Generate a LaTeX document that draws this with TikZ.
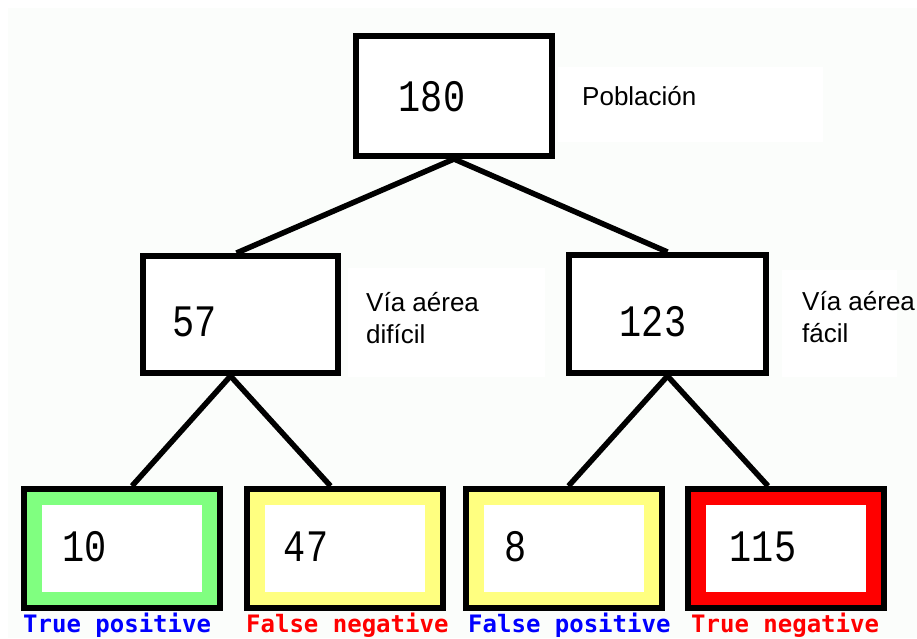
\documentclass[tikz,border=0pt]{standalone}
\usepackage{fontspec}
\setmainfont{Liberation Sans}
\newfontfamily\numfont{Liberation Mono}
\newfontfamily\tagfont{DejaVu Sans Mono}
\usetikzlibrary{backgrounds}
\definecolor{paper}{RGB}{251,253,251}
\definecolor{tpgreen}{RGB}{128,255,128}
\definecolor{fyellow}{RGB}{255,255,128}
\definecolor{tnred}{RGB}{255,0,0}
\definecolor{tagblue}{RGB}{0,0,255}
\definecolor{tagred}{RGB}{255,0,0}

\begin{document}
\begin{tikzpicture}[x=1pt,y=-1pt,
  box/.style={draw=black, line width=6pt, fill=white,
    minimum width=196pt, minimum height=119pt, inner sep=0pt},
  leaf/.style={box, fill=#1},
  count/.style={font=\numfont\fontsize{45}{45}\selectfont, inner sep=0pt},
  note/.style={font=\fontsize{26}{32}\selectfont, align=left,
    anchor=base west, inner sep=0pt},
  tag/.style={font=\tagfont\bfseries\fontsize{24}{24}\selectfont,
    anchor=base west, inner sep=0pt, text=#1},
  link/.style={line width=5.5pt, line cap=butt},
  hole/.style={fill=white}
]
\useasboundingbox (0,0) rectangle (917,638);

% tree boxes
\node[box, minimum height=120pt] (pop) at (454,96) {};
\node[box, minimum width=195pt, minimum height=117pt] (hard) at (240.5,314.5) {};
\node[box, minimum width=197pt, minimum height=118pt] (easy) at (667.5,314) {};
\node[leaf=tpgreen] (tp) at (122,548.5) {};
\node[leaf=fyellow] (fn) at (344.5,548.5) {};
\node[leaf=fyellow] (fp) at (563.5,548.5) {};
\node[leaf=tnred]   (tn) at (786,548.5) {};

% white windows inside the coloured leaves
\foreach \b in {tp,fn,fp,tn}
  \fill[hole] ([shift={(21,-19)}]\b.south west) rectangle ([shift={(-21,19)}]\b.north east);

% counts
\node[count] (npop)  at (432,97)  {\scalebox{.82}[1]{180}};
\node[count] (nhard) at (195,322) {\scalebox{.82}[1]{57}};
\node[count] (neasy) at (653,322) {\scalebox{.82}[1]{123}};
\node[count] (ntp)   at (85,547)  {\scalebox{.82}[1]{10}};
\node[count] (nfn)   at (306,547) {\scalebox{.82}[1]{47}};
\node[count] (nfp)   at (516,547) {\scalebox{.82}[1]{8}};
\node[count] (ntn)   at (763,547) {\scalebox{.82}[1]{115}};

% side notes (anchored at the baseline of their last line)
\node[note] (lpop)  at (582,105) {Población};
\node[note] (lhard) at (366,343) {Vía aérea\\difícil};
\node[note] (leasy) at (802,342) {Vía aérea\\fácil};

% outcome tags
\node[tag=tagblue] (ttp) at (23,632)  {True positive};
\node[tag=tagred]  (tfn) at (246,632) {False negative};
\node[tag=tagblue] (tfp) at (468,632) {False positive};
\node[tag=tagred]  (ttn) at (691,632) {True negative};

\begin{pgfonlayer}{background}
  \fill[white] (0,0) rectangle (917,638);
  \fill[paper] (8,8) rectangle (917,638);
  \fill[white] (558,67) rectangle (823,142);
  \fill[white] (348,268) rectangle (545,377);
  \fill[white] (782,270) rectangle (897,377);
  % branches
  \draw[link] (pop.south) -- ([xshift=-4pt]hard.north);
  \draw[link] (pop.south) -- (easy.north);
  \draw[link] ([xshift=-10pt]hard.south) -- ([xshift=10pt]tp.north);
  \draw[link] ([xshift=-10pt]hard.south) -- ([xshift=-14pt]fn.north);
  \draw[link] (easy.south) -- ([xshift=5pt]fp.north);
  \draw[link] (easy.south) -- ([xshift=-18pt]tn.north);
\end{pgfonlayer}
\end{tikzpicture}
\end{document}
